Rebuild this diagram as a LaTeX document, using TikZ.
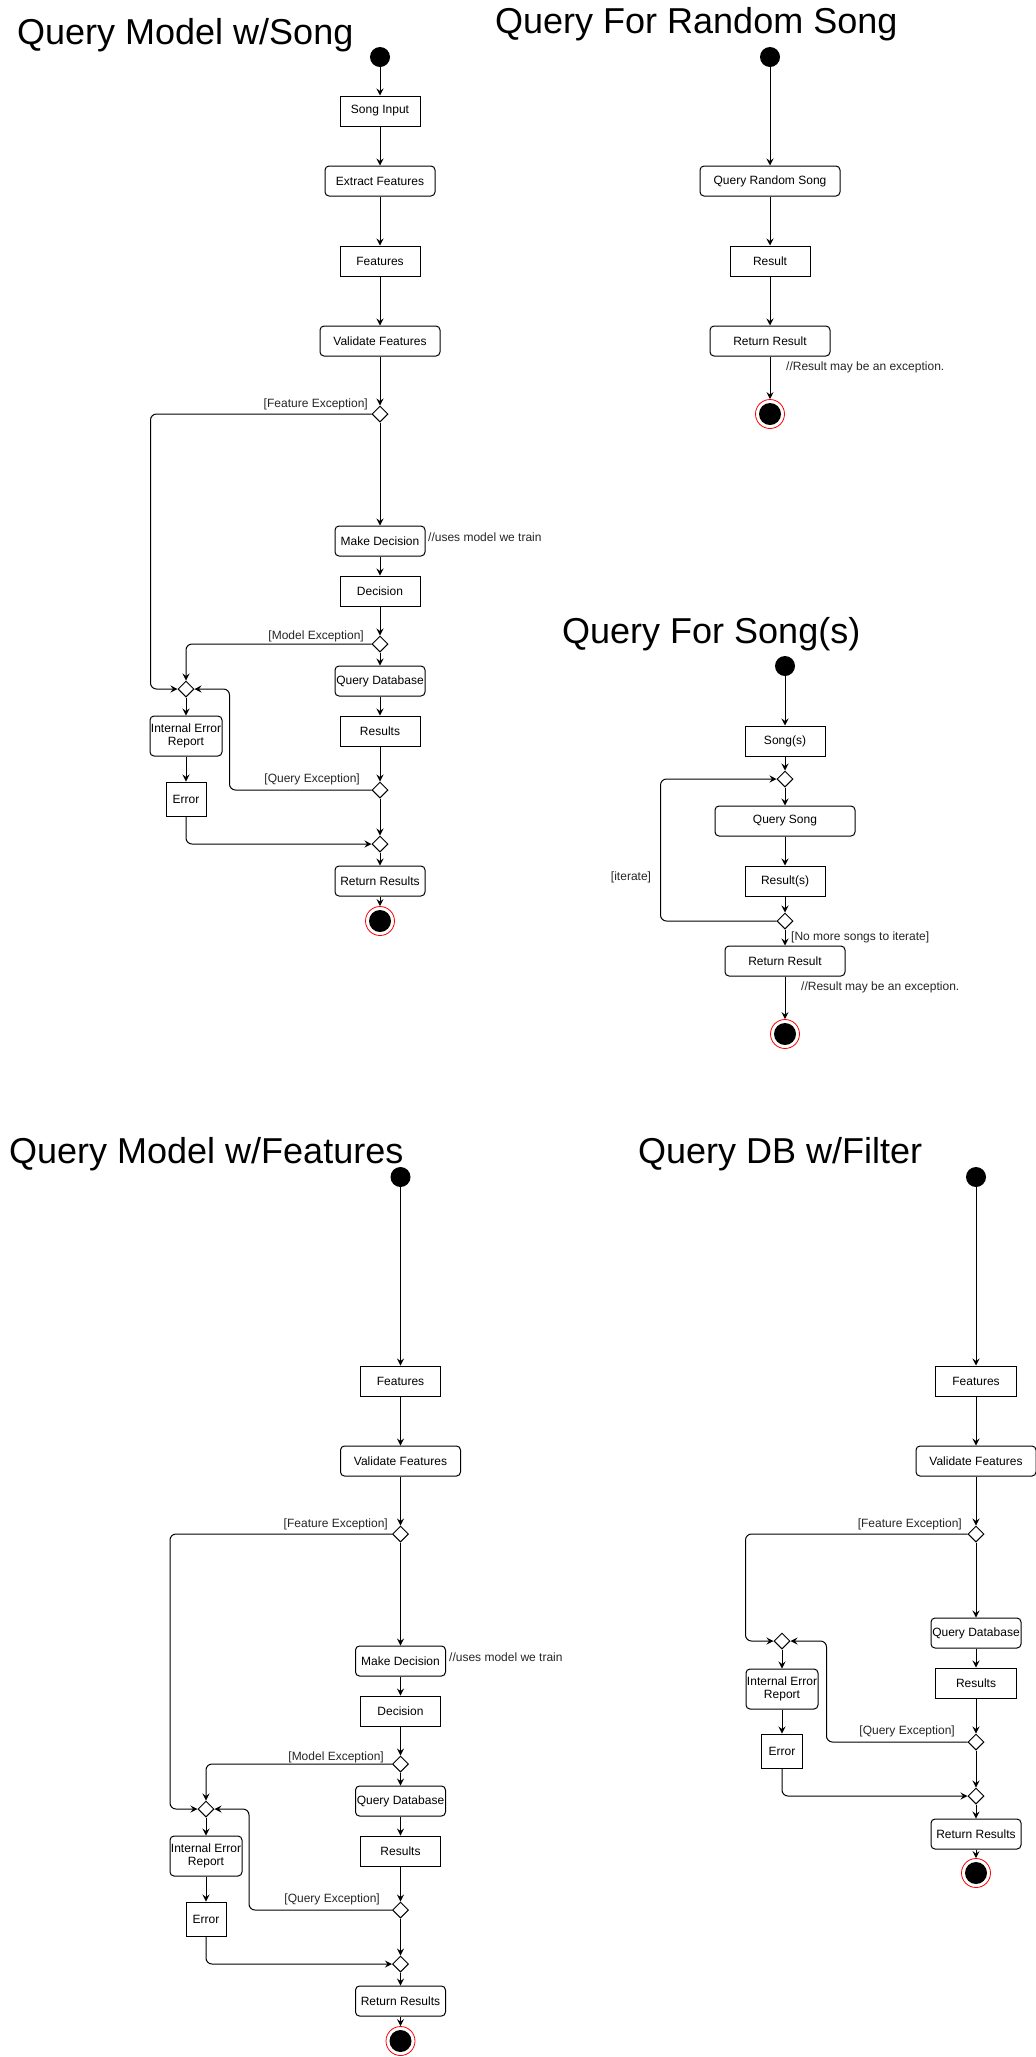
\documentclass[tikz,border=0pt]{standalone}
\usepackage{fontspec}
\setmainfont{Liberation Sans}
\usetikzlibrary{shapes.geometric,arrows.meta}
\tikzset{
  base/.style={draw=black, line width=1pt, inner sep=0pt, align=center, text=black},
  act/.style={base, rectangle, rounded corners=4pt, minimum height=30pt},
  obj/.style={base, rectangle, minimum height=30pt},
  dec/.style={draw=black, line width=1pt, diamond, inner sep=0pt, minimum width=16pt, minimum height=16pt, fill=white},
  startst/.style={circle, fill=black, inner sep=0pt, minimum size=20pt},
  endst/.style={circle, draw=red, line width=0.8pt, fill=white, inner sep=0pt, minimum size=29pt,
     path picture={\fill[black] (path picture bounding box.center) circle (11pt);}},
  arr/.style={draw=black, line width=1pt, -{Stealth[length=7pt,width=7pt,inset=2.5pt]}},
  loop/.style={arr, rounded corners=6pt},
  lbl/.style={inner sep=0pt, text=black!85},
  title/.style={inner sep=0pt, anchor=base west, text=black, font=\fontsize{36}{40}\selectfont},
  f12/.style={font=\fontsize{12}{13}\selectfont},
}
\begin{document}
\begin{tikzpicture}[x=1pt,y=-1pt]
\useasboundingbox[fill=white] (0,0) rectangle (1036,2057);

% ================= Diagram 1: Query Model w/Song =================
\node[title] (t1) at (17,44) {Query Model w/Song};
\begin{scope}[every node/.append style={f12}]
\node[startst] (a0) at (380,57) {};
\node[obj, minimum width=80pt] (a1) at (380,111) {Song Input};
\node[act, minimum width=110pt] (a2) at (380,181) {Extract Features};
\node[obj, minimum width=80pt] (a3) at (380,261) {Features};
\node[act, minimum width=120pt] (a4) at (380,341) {Validate Features};
\node[dec] (ad1) at (380,414) {};
\node[act, minimum width=90pt] (a5) at (380,541) {Make Decision};
\node[obj, minimum width=80pt] (a6) at (380,591) {Decision};
\node[dec] (ad2) at (380,644) {};
\node[act, minimum width=90pt] (a7) at (380,681) {Query Database};
\node[obj, minimum width=80pt] (a8) at (380,731) {Results};
\node[dec] (ad3) at (380,790) {};
\node[dec] (am) at (186,689) {};
\node[act, minimum width=72pt, minimum height=40pt] (a9) at (186,736) {Internal Error\\Report};
\node[obj, minimum width=40pt, minimum height=34pt] (a10) at (186,799) {Error};
\node[dec] (ad4) at (380,844) {};
\node[act, minimum width=90pt] (a11) at (380,881) {Return Results};
\node[endst] (ae) at (380,921) {};
\node[lbl, anchor=east] (al1) at (368,404) {[Feature Exception]};
\node[lbl, anchor=east] (al2) at (364,636) {[Model Exception]};
\node[lbl, anchor=east] (al3) at (360,779) {[Query Exception]};
\node[lbl, anchor=west] (al4) at (428,537) {//uses model we train};
\end{scope}
\foreach \p/\q in {a0/a1,a1/a2,a2/a3,a3/a4,a4/ad1,ad1/a5,a5/a6,a6/ad2,ad2/a7,a7/a8,a8/ad3,ad3/ad4,ad4/a11,a11/ae,am/a9,a9/a10}
  \draw[arr] (\p) -- (\q);
\draw[loop] (ad1.west) -- ++(-221,0) |- (am.west);
\draw[loop] (ad2.west) -| (am.north);
\draw[loop] (ad3.west) -- ++(-142,0) |- (am.east);
\draw[loop] (a10.south) |- (ad4.west);

% ================= Diagram 2: Query For Random Song =================
\node[title] (t2) at (495,33) {Query For Random Song};
\begin{scope}[every node/.append style={f12}]
\node[startst] (b0) at (770,57) {};
\node[act, minimum width=140pt] (b1) at (770,181) {Query Random Song};
\node[obj, minimum width=80pt] (b2) at (770,261) {Result};
\node[act, minimum width=120pt] (b3) at (770,341) {Return Result};
\node[endst] (be) at (770,414) {};
\node[lbl, anchor=west] (bl1) at (786,367) {//Result may be an exception.};
\end{scope}
\foreach \p/\q in {b0/b1,b1/b2,b2/b3,b3/be}
  \draw[arr] (\p) -- (\q);

% ================= Diagram 3: Query For Song(s) =================
\node[title] (t3) at (562,643) {Query For Song(s)};
\begin{scope}[every node/.append style={f12}]
\node[startst] (c0) at (785,666) {};
\node[obj, minimum width=80pt] (c1) at (785,741) {Song(s)};
\node[dec] (cd1) at (785,779) {};
\node[act, minimum width=140pt] (c2) at (785,821) {Query Song};
\node[obj, minimum width=80pt] (c3) at (785,881) {Result(s)};
\node[dec] (cd2) at (785,921) {};
\node[act, minimum width=120pt] (c4) at (785,961) {Return Result};
\node[endst] (ce) at (785,1034) {};
\node[lbl] (cl1) at (631,877) {[iterate]};
\node[lbl, anchor=west] (cl2) at (791,937) {[No more songs to iterate]};
\node[lbl, anchor=west] (cl3) at (801,987) {//Result may be an exception.};
\end{scope}
\foreach \p/\q in {c0/c1,c1/cd1,cd1/c2,c2/c3,c3/cd2,cd2/c4,c4/ce}
  \draw[arr] (\p) -- (\q);
\draw[loop] (cd2.west) -- ++(-116,0) |- (cd1.west);

% ================= Diagram 4: Query Model w/Features =================
\node[title] (t4) at (9,1163) {Query Model w/Features};
\begin{scope}[every node/.append style={f12}]
\node[startst] (d0) at (400.5,1177) {};
\node[obj, minimum width=80pt] (d1) at (400.5,1381) {Features};
\node[act, minimum width=120pt] (d2) at (400.5,1461) {Validate Features};
\node[dec] (dd1) at (400.5,1534) {};
\node[act, minimum width=90pt] (d3) at (400.5,1661) {Make Decision};
\node[obj, minimum width=80pt] (d4) at (400.5,1711) {Decision};
\node[dec] (dd2) at (400.5,1764) {};
\node[act, minimum width=90pt] (d5) at (400.5,1801) {Query Database};
\node[obj, minimum width=80pt] (d6) at (400.5,1851) {Results};
\node[dec] (dd3) at (400.5,1910) {};
\node[dec] (dm) at (206,1809) {};
\node[act, minimum width=72pt, minimum height=40pt] (d7) at (206,1856) {Internal Error\\Report};
\node[obj, minimum width=40pt, minimum height=34pt] (d8) at (206,1919) {Error};
\node[dec] (dd4) at (400.5,1964) {};
\node[act, minimum width=90pt] (d9) at (400.5,2001) {Return Results};
\node[endst] (de) at (400.5,2041) {};
\node[lbl, anchor=east] (dl1) at (388,1524) {[Feature Exception]};
\node[lbl, anchor=east] (dl2) at (384,1757) {[Model Exception]};
\node[lbl, anchor=east] (dl3) at (380,1899) {[Query Exception]};
\node[lbl, anchor=west] (dl4) at (449,1657) {//uses model we train};
\end{scope}
\foreach \p/\q in {d0/d1,d1/d2,d2/dd1,dd1/d3,d3/d4,d4/dd2,dd2/d5,d5/d6,d6/dd3,dd3/dd4,dd4/d9,d9/de,dm/d7,d7/d8}
  \draw[arr] (\p) -- (\q);
\draw[loop] (dd1.west) -- ++(-222,0) |- (dm.west);
\draw[loop] (dd2.west) -| (dm.north);
\draw[loop] (dd3.west) -- ++(-143,0) |- (dm.east);
\draw[loop] (d8.south) |- (dd4.west);

% ================= Diagram 5: Query DB w/Filter =================
\node[title] (t5) at (638,1163) {Query DB w/Filter};
\begin{scope}[every node/.append style={f12}]
\node[startst] (e0) at (976,1177) {};
\node[obj, minimum width=81pt] (e1) at (976,1381) {Features};
\node[act, minimum width=120pt] (e2) at (976,1461) {Validate Features};
\node[dec] (ed1) at (976,1534) {};
\node[act, minimum width=90pt] (e3) at (976,1633) {Query Database};
\node[obj, minimum width=81pt] (e4) at (976,1683) {Results};
\node[dec] (ed2) at (976,1742) {};
\node[dec] (em) at (782,1641) {};
\node[act, minimum width=72pt, minimum height=40pt] (e5) at (782,1689) {Internal Error\\Report};
\node[obj, minimum width=41pt, minimum height=34pt] (e6) at (782,1751) {Error};
\node[dec] (ed3) at (976,1796) {};
\node[act, minimum width=90pt] (e7) at (976,1834) {Return Results};
\node[endst] (ee) at (976,1873) {};
\node[lbl, anchor=east] (el1) at (962,1524) {[Feature Exception]};
\node[lbl, anchor=east] (el2) at (955,1731) {[Query Exception]};
\end{scope}
\foreach \p/\q in {e0/e1,e1/e2,e2/ed1,ed1/e3,e3/e4,e4/ed2,ed2/ed3,ed3/e7,e7/ee,em/e5,e5/e6}
  \draw[arr] (\p) -- (\q);
\draw[loop] (ed1.west) -- ++(-222,0) |- (em.west);
\draw[loop] (ed2.west) -- ++(-141,0) |- (em.east);
\draw[loop] (e6.south) |- (ed3.west);
\end{tikzpicture}
\end{document}
